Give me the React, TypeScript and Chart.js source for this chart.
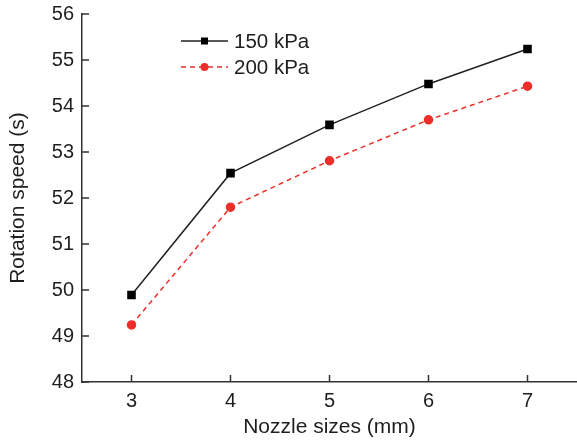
import React, { useEffect, useRef } from "react";
import { Chart, registerables } from "chart.js";

Chart.register(...registerables);

const categories = ["3", "4", "5", "6", "7"];
const series150 = [49.89, 52.54, 53.59, 54.48, 55.24];
const series200 = [49.24, 51.8, 52.81, 53.7, 54.43];
const seriesNames = ["150 kPa", "200 kPa"];
const yTicks = [48, 49, 50, 51, 52, 53, 54, 55, 56];

const FONT = "'Liberation Sans', Arial, sans-serif";
const AXIS = "#333";
const TEXT = "#1e1e1e";

const inwardTicks = {
  id: "inwardTicks",
  afterDraw(chart: any) {
    const ctx = chart.ctx;
    const { left, bottom } = chart.chartArea;
    const xs = chart.scales.x;
    const ys = chart.scales.y;
    ctx.save();
    ctx.strokeStyle = AXIS;
    ctx.lineWidth = 1.5;
    ctx.beginPath();
    xs.ticks.forEach((_t: any, i: number) => {
      const px = xs.getPixelForTick(i);
      ctx.moveTo(px, bottom);
      ctx.lineTo(px, bottom - 7);
    });
    ys.ticks.forEach((_t: any, i: number) => {
      const py = ys.getPixelForTick(i);
      ctx.moveTo(left, py);
      ctx.lineTo(left + 7, py);
    });
    ctx.stroke();
    ctx.restore();
  },
};

const customLegend = {
  id: "customLegend",
  afterDraw(chart: any) {
    const ctx = chart.ctx;
    const x0 = 181;
    const x1 = 228;
    const ys = [41, 67];
    ctx.save();
    chart.data.datasets.forEach((ds: any, i: number) => {
      const y = ys[i];
      ctx.strokeStyle = ds.borderColor;
      ctx.lineWidth = ds.borderWidth;
      ctx.setLineDash(ds.borderDash || []);
      ctx.beginPath();
      ctx.moveTo(x0, y);
      ctx.lineTo(x1, y);
      ctx.stroke();
      ctx.setLineDash([]);
      ctx.fillStyle = ds.pointBackgroundColor;
      const cx = (x0 + x1) / 2;
      if (ds.pointStyle === "rect") {
        ctx.fillRect(cx - 3.5, y - 3.5, 7, 7);
      } else {
        ctx.beginPath();
        ctx.arc(cx, y, 4, 0, Math.PI * 2);
        ctx.fill();
      }
      ctx.fillStyle = TEXT;
      ctx.font = `20.5px ${FONT}`;
      ctx.textBaseline = "middle";
      ctx.textAlign = "left";
      ctx.fillText(ds.label, 234, y + 1);
    });
    ctx.restore();
  },
};

export default function App() {
  const ref = useRef<HTMLCanvasElement>(null);
  useEffect(() => {
    document.body.style.margin = "0";
    const chart = new Chart(ref.current as HTMLCanvasElement, {
      type: "line",
      data: {
        labels: categories,
        datasets: [
          {
            label: seriesNames[0],
            data: series150,
            borderColor: "#222",
            backgroundColor: "#000",
            pointBackgroundColor: "#000",
            pointBorderColor: "#000",
            pointStyle: "rect",
            pointRadius: 5,
            borderWidth: 1.5,
            tension: 0,
          },
          {
            label: seriesNames[1],
            data: series200,
            borderColor: "#ec2f2a",
            backgroundColor: "#ec2f2a",
            pointBackgroundColor: "#ec2f2a",
            pointBorderColor: "#ec2f2a",
            pointStyle: "circle",
            pointRadius: 4,
            borderWidth: 1.5,
            borderDash: [5, 4],
            tension: 0,
          },
        ],
      },
      options: {
        responsive: false,
        animation: false,
        layout: { autoPadding: false, padding: { left: 0, right: 0, top: 14, bottom: 0 } },
        plugins: { legend: { display: false }, tooltip: { enabled: false } },
        scales: {
          x: {
            type: "category",
            offset: true,
            grid: { display: false, drawTicks: false },
            border: { display: true, color: AXIS, width: 1.5 },
            ticks: { color: TEXT, font: { family: FONT, size: 20 }, padding: 7, maxRotation: 0 },
            title: {
              display: true,
              text: "Nozzle sizes (mm)",
              color: TEXT,
              font: { family: FONT, size: 21 },
              padding: { top: 0, bottom: 1.5 },
            },
            afterFit: (s: any) => {
              s.height = 59;
              s.paddingLeft = 0;
              s.paddingRight = 0;
            },
          },
          y: {
            min: yTicks[0],
            max: yTicks[yTicks.length - 1],
            grid: { display: false, drawTicks: false },
            border: { display: true, color: AXIS, width: 1.5 },
            ticks: { stepSize: 1, color: TEXT, font: { family: FONT, size: 20 }, padding: 8 },
            title: {
              display: true,
              text: "Rotation speed (s)",
              color: TEXT,
              font: { family: FONT, size: 21 },
              padding: { top: 5.5, bottom: 0 },
            },
            afterFit: (s: any) => {
              s.width = 82;
              s.paddingTop = 0;
              s.paddingBottom = 0;
            },
          },
        },
      },
      plugins: [inwardTicks, customLegend],
    });
    return () => chart.destroy();
  }, []);
  return (
    <div style={{ position: "absolute", left: 0, top: 0, width: 577, height: 441 }}>
      <canvas ref={ref} width={577} height={441} />
    </div>
  );
}
